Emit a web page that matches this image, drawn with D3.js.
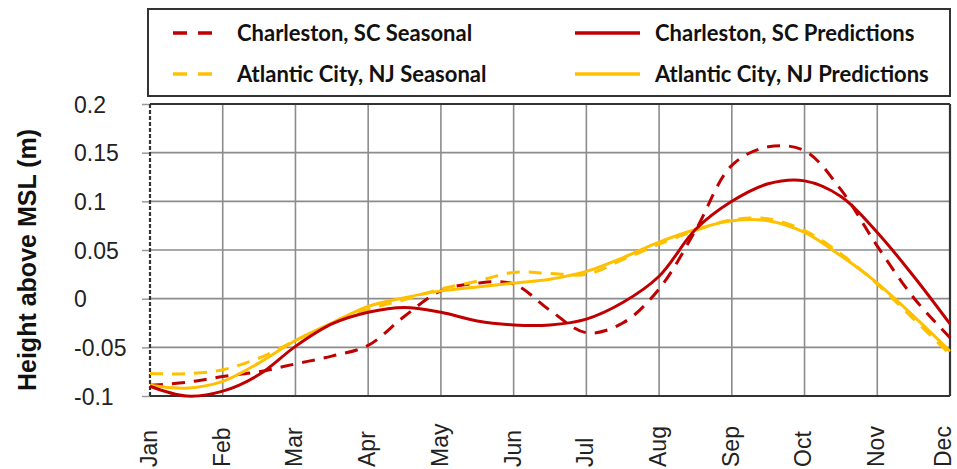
<!DOCTYPE html>
<html>
<head>
<meta charset="utf-8">
<script src="https://cdn.jsdelivr.net/npm/d3@7"></script>
<style>
  html, body { margin: 0; padding: 0; background: #fff; }
  svg { display: block; }
</style>
</head>
<body>
<svg id="chart" width="957" height="469"></svg>
<script>
// Month tick labels along the x axis
const months = ["Jan", "Feb", "Mar", "Apr", "May", "Jun", "Jul", "Aug", "Sep", "Oct", "Nov", "Dec"];

// Sample positions (in months from Jan) at which each curve is given
const samplePos = [0, 0.5, 1, 1.5, 2, 2.5, 3, 3.5, 4, 4.5, 5, 5.5, 6, 6.5, 7, 7.5, 8, 8.5, 9, 9.5, 10, 10.5, 11];

// Height above mean sea level (m)
const charlestonSeasonal = [-0.089, -0.086, -0.080, -0.075, -0.067, -0.059, -0.048, -0.018, 0.008, 0.016, 0.015, -0.012,
                            -0.035, -0.025, 0.010, 0.070, 0.137, 0.156, 0.152, 0.112, 0.054, 0.001, -0.040];
const charlestonPredictions = [-0.090, -0.100, -0.095, -0.078, -0.049, -0.026, -0.014, -0.009, -0.014, -0.023, -0.027, -0.027,
                               -0.021, -0.004, 0.023, 0.071, 0.100, 0.118, 0.121, 0.105, 0.068, 0.023, -0.026];
const atlanticSeasonal = [-0.077, -0.077, -0.073, -0.061, -0.043, -0.026, -0.011, -0.001, 0.010, 0.018, 0.027, 0.026,
                          0.025, 0.040, 0.056, 0.070, 0.081, 0.082, 0.070, 0.046, 0.015, -0.021, -0.057];
const atlanticPredictions = [-0.089, -0.092, -0.085, -0.066, -0.043, -0.025, -0.008, 0.001, 0.008, 0.012, 0.016, 0.020,
                             0.028, 0.042, 0.058, 0.071, 0.080, 0.080, 0.068, 0.044, 0.016, -0.018, -0.054];

// Y axis tick values and their labels
const yTicks = [0.2, 0.15, 0.1, 0.05, 0, -0.05, -0.1];
const yTickLabels = ["0.2", "0.15", "0.1", "0.05", "0", "-0.05", "-0.1"];

const RED = "#c00000";
const GOLD = "#ffc000";

const series = [
  { name: "Charleston, SC Seasonal", values: charlestonSeasonal, color: RED, dashed: true },
  { name: "Charleston, SC Predictions", values: charlestonPredictions, color: RED, dashed: false },
  { name: "Atlantic City, NJ Seasonal", values: atlanticSeasonal, color: GOLD, dashed: true },
  { name: "Atlantic City, NJ Predictions", values: atlanticPredictions, color: GOLD, dashed: false }
];

const W = 957;
const svg = d3.select("#chart");
const plot = { left: 150, right: 950, top: 104, bottom: 396 };

const x = d3.scaleLinear().domain([0, months.length - 1]).range([plot.left, plot.right]);
const y = d3.scaleLinear().domain([-0.1, 0.2]).range([plot.bottom, plot.top]);

// Grid
const grid = svg.append("g");
grid.selectAll("line.h").data(yTicks).join("line")
  .attr("x1", plot.left).attr("x2", plot.right)
  .attr("y1", d => y(d)).attr("y2", d => y(d))
  .attr("stroke", "#8c8c8c").attr("stroke-width", 1.6);
grid.selectAll("line.v").data(d3.range(1, months.length - 1)).join("line")
  .attr("x1", d => x(d)).attr("x2", d => x(d))
  .attr("y1", plot.top).attr("y2", plot.bottom)
  .attr("stroke", "#8c8c8c").attr("stroke-width", 1.6);

// Y axis: small outside ticks and left-aligned labels
const yAxis = d3.axisLeft(y).tickValues(yTicks).tickSize(8).tickFormat((d, i) => yTickLabels[i]);
const yg = svg.append("g").attr("transform", `translate(${plot.left},0)`).call(yAxis);
yg.select(".domain").remove();
yg.selectAll(".tick line").attr("stroke", "#9a9a9a").attr("stroke-width", 1.5);
yg.selectAll(".tick text")
  .attr("x", 74 - plot.left).attr("text-anchor", "start")
  .attr("dy", "0.35em")
  .attr("font-family", "'Liberation Sans', Arial, sans-serif")
  .attr("font-size", 23).attr("fill", "#222");

// X axis: rotated month labels
const xAxis = d3.axisBottom(x).tickValues(d3.range(months.length)).tickSize(0).tickFormat((d, i) => months[i]);
const xg = svg.append("g").attr("transform", `translate(0,${plot.bottom})`).call(xAxis);
xg.select(".domain").remove();
xg.selectAll(".tick text")
  .attr("transform", "rotate(-90)")
  .attr("x", -(467 - plot.bottom)).attr("y", 0)
  .attr("dy", "0.28em")
  .attr("text-anchor", "start")
  .attr("font-family", "'Liberation Sans', Arial, sans-serif")
  .attr("font-size", 23).attr("fill", "#222");

// Keep the last rotated label inside the canvas
xg.selectAll(".tick text").each(function () {
  const r = this.getBoundingClientRect();
  const over = r.right - (W - 1);
  if (over > 0) d3.select(this).attr("y", -over);
});

// Plot frame: solid top, right and bottom; dashed left edge
const frame = svg.append("g").attr("stroke", "#333").attr("stroke-width", 2.2).attr("fill", "none");
frame.append("line").attr("x1", plot.left).attr("x2", plot.right).attr("y1", plot.top).attr("y2", plot.top);
frame.append("line").attr("x1", plot.right).attr("x2", plot.right).attr("y1", plot.top).attr("y2", plot.bottom);
frame.append("line").attr("x1", plot.left).attr("x2", plot.right).attr("y1", plot.bottom).attr("y2", plot.bottom);
frame.append("line").attr("x1", plot.left).attr("x2", plot.left).attr("y1", plot.top).attr("y2", plot.bottom)
  .attr("stroke-dasharray", "4,2");

// Curves
const line = d3.line()
  .x((d, i) => x(samplePos[i]))
  .y(d => y(d))
  .curve(d3.curveCatmullRom.alpha(0.5));

const drawOrder = [series[0], series[2], series[3], series[1]];
svg.append("g").selectAll("path").data(drawOrder).join("path")
  .attr("d", d => line(d.values))
  .attr("fill", "none")
  .attr("stroke", d => d.color)
  .attr("stroke-width", 3)
  .attr("stroke-dasharray", d => d.dashed ? "13,9" : null)
  .attr("stroke-linecap", "butt");

// Y axis title
svg.append("text")
  .attr("transform", "translate(36,260) rotate(-90)")
  .attr("text-anchor", "middle")
  .attr("font-family", "'Liberation Sans', Arial, sans-serif")
  .attr("font-weight", "bold")
  .attr("font-size", 25)
  .attr("fill", "#111")
  .text("Height above MSL (m)");

// Legend
const legend = svg.append("g");
legend.append("rect")
  .attr("x", 148).attr("y", 9).attr("width", 802).attr("height", 87)
  .attr("fill", "#fff").attr("stroke", "#333").attr("stroke-width", 2);

const legendPos = [
  { sx: 173, tx: 237, cy: 33 },
  { sx: 575, tx: 655, cy: 33 },
  { sx: 173, tx: 237, cy: 74 },
  { sx: 575, tx: 655, cy: 74 }
];

const items = legend.selectAll("g.item").data(series).join("g").attr("class", "item");
items.append("line")
  .attr("x1", (d, i) => legendPos[i].sx)
  .attr("x2", (d, i) => d.dashed ? legendPos[i].sx + 39 : legendPos[i].sx + 65)
  .attr("y1", (d, i) => legendPos[i].cy).attr("y2", (d, i) => legendPos[i].cy)
  .attr("stroke", d => d.color).attr("stroke-width", 3.5)
  .attr("stroke-dasharray", d => d.dashed ? "14,11" : null);
items.append("text")
  .attr("x", (d, i) => legendPos[i].tx)
  .attr("y", (d, i) => legendPos[i].cy)
  .attr("dy", "0.35em")
  .attr("font-family", "Lato, 'Open Sans', sans-serif")
  .attr("font-weight", "bold")
  .attr("font-size", 22)
  .attr("fill", "#111")
  .text(d => d.name);
</script>
</body>
</html>
